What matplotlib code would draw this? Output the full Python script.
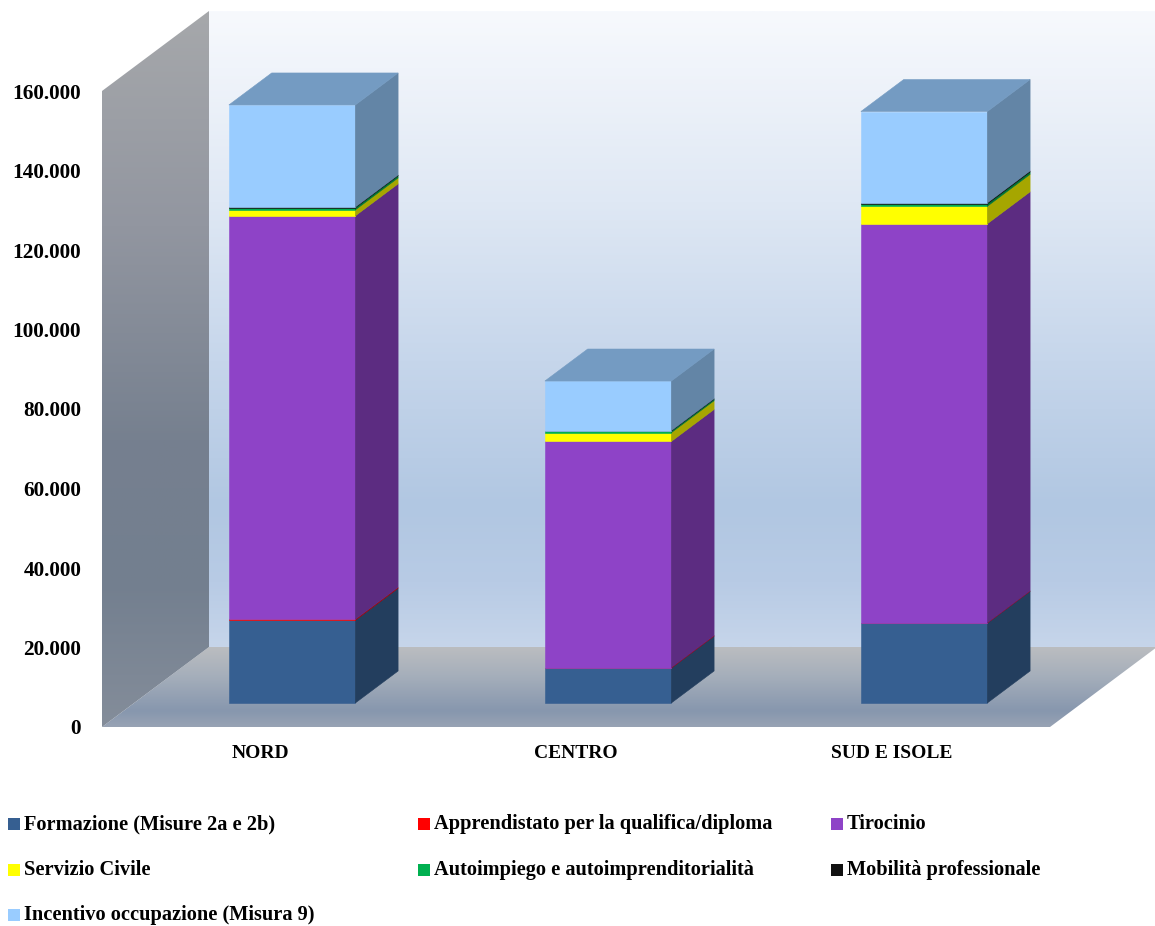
import numpy as np
import matplotlib
matplotlib.use("Agg")
import matplotlib.pyplot as plt
from matplotlib.patches import Polygon, Rectangle
from matplotlib.colors import to_rgb, LinearSegmentedColormap

# ---------------------------------------------------------------- data
regions = ["NORD", "CENTRO", "SUD E ISOLE"]

formazione = [20800, 8800, 20100]
apprendistato = [250, 100, 50]
tirocinio = [101500, 56900, 100400]
servizio_civile = [1500, 2200, 4400]
autoimpiego = [550, 400, 600]
mobilita = [150, 100, 250]
incentivo = [25700, 12500, 23000]

series_labels = [
    "Formazione (Misure 2a e 2b)",
    "Apprendistato per la qualifica/diploma",
    "Tirocinio",
    "Servizio Civile",
    "Autoimpiego e autoimprenditorialità",
    "Mobilità professionale",
    "Incentivo occupazione (Misura 9)",
]
series_values = [formazione, apprendistato, tirocinio, servizio_civile,
                 autoimpiego, mobilita, incentivo]
series_colors = ["#365f91", "#ff0000", "#8e43c7", "#ffff00",
                 "#00b050", "#111111", "#99ccff"]

y_ticks = [0, 20000, 40000, 60000, 80000, 100000, 120000, 140000, 160000]

# ---------------------------------------------------------------- layout
W, H, DPI = 1155, 926, 100
FONT = ["Liberation Serif", "DejaVu Serif"]

px_per_cat = 316.0          # horizontal pixels per category
px_per_val = 3.975 / 1000   # vertical pixels per unit of value
ax_left_px, ax_bottom_px, ax_top_px = 102, 727, 10

# oblique depth of the box (floor / walls) in data units
DX = 107 / px_per_cat
DY = 80 / px_per_val
bar_w = 0.4
depth_front, depth_back = 0.3, 0.7
wall_top = y_ticks[-1]

fig = plt.figure(figsize=(W / DPI, H / DPI), dpi=DPI)
fig.patch.set_facecolor("white")
ax = fig.add_axes([ax_left_px / W, (H - ax_bottom_px) / H,
                   1 - ax_left_px / W, (ax_bottom_px - ax_top_px) / H])
xlim = (-0.5, -0.5 + (W - ax_left_px) / px_per_cat)
ylim = (0, (ax_bottom_px - ax_top_px) / px_per_val)


def gradient_fill(verts, stops, z):
    """Fill a polygon with a vertical colour gradient (stops top -> bottom)."""
    cmap = LinearSegmentedColormap.from_list("g", stops)
    xs = [v[0] for v in verts]
    ys = [v[1] for v in verts]
    img = np.linspace(0, 1, 256).reshape(-1, 1)
    im = ax.imshow(img, cmap=cmap, aspect="auto", origin="upper",
                   extent=(min(xs), max(xs), min(ys), max(ys)),
                   zorder=z, interpolation="bilinear")
    clip = Polygon(verts, closed=True, transform=ax.transData)
    im.set_clip_path(clip)
    im.set_clip_on(True)


n = len(regions)
x_lo, x_hi = -0.5, n - 0.5

# back wall
back = [(x_lo + DX, DY), (x_hi + DX, DY), (x_hi + DX, wall_top + DY),
        (x_lo + DX, wall_top + DY)]
gradient_fill(back, [(0.0, "#f7f9fd"), (0.3, "#dfe8f4"), (0.55, "#c6d6eb"),
                     (0.78, "#b1c7e2"), (0.9, "#b8cbe5"), (1.0, "#c6d5ea")], 1)

# floor
floor = [(x_lo, 0), (x_hi, 0), (x_hi + DX, DY), (x_lo + DX, DY)]
gradient_fill(floor, [(0.0, "#bbbdc0"), (0.35, "#a6afbb"), (0.8, "#8797ae"),
                      (1.0, "#98a3b4")], 2)

# left wall
left = [(x_lo, 0), (x_lo, wall_top), (x_lo + DX, wall_top + DY),
        (x_lo + DX, DY)]
gradient_fill(left, [(0.0, "#a6a8ab"), (0.3, "#9296a0"), (0.6, "#76808f"),
                     (0.8, "#737f8f"), (1.0, "#848d9a")], 3)


def shade(color, f):
    r, g, b = to_rgb(color)
    return (r * f, g * f, b * f)


# stacked boxes
bdx = (depth_back - depth_front) * DX
bdy = (depth_back - depth_front) * DY
for i in range(n):
    x0 = i - bar_w / 2 + depth_front * DX
    x1 = x0 + bar_w
    base = depth_front * DY
    top_color = None
    for vals, col in zip(series_values, series_colors):
        v = vals[i]
        if v <= 0:
            continue
        y0, y1 = base, base + v
        front = Polygon([(x0, y0), (x1, y0), (x1, y1), (x0, y1)],
                        closed=True, facecolor=col, edgecolor=col,
                        linewidth=0.4, zorder=5)
        side_c = shade(col, 0.65)
        side = Polygon([(x1, y0), (x1 + bdx, y0 + bdy), (x1 + bdx, y1 + bdy),
                        (x1, y1)], closed=True, facecolor=side_c,
                       edgecolor=side_c, linewidth=0.4, zorder=5)
        ax.add_patch(front)
        ax.add_patch(side)
        base = y1
        top_color = col
    top_c = shade(top_color, 0.76)
    top = Polygon([(x0, base), (x1, base), (x1 + bdx, base + bdy),
                   (x0 + bdx, base + bdy)], closed=True, facecolor=top_c,
                  edgecolor=top_c, linewidth=0.4, zorder=5)
    ax.add_patch(top)

ax.set_xlim(*xlim)
ax.set_ylim(*ylim)

# axes ticks
for s in ax.spines.values():
    s.set_visible(False)
ax.set_yticks(y_ticks)
ax.set_yticklabels([f"{v:,}".replace(",", ".") for v in y_ticks],
                   fontfamily=FONT, fontweight="bold", fontsize=15.3)
ax.set_xticks(range(n))
ax.set_xticklabels(regions, fontfamily=FONT, fontweight="bold", fontsize=14)
ax.tick_params(axis="y", length=0, pad=15)
ax.tick_params(axis="x", length=0, pad=13)
ax.set_facecolor("none")

# legend laid out row by row in three columns
col_x = [8, 418, 831]
row_y = [824, 870, 915]
box = 12
for k, (lab, col) in enumerate(zip(series_labels, series_colors)):
    r, c = divmod(k, 3)
    xm, ym = col_x[c], row_y[r]
    fig.patches.append(Rectangle((xm / W, 1 - (ym + box / 2) / H), box / W,
                                 box / H, transform=fig.transFigure,
                                 facecolor=col, edgecolor="none"))
    fig.text((xm + 16) / W, 1 - ym / H, lab, fontfamily=FONT,
             fontweight="bold", fontsize=14.7, va="center", ha="left")

fig.savefig("out.png", dpi=DPI)
